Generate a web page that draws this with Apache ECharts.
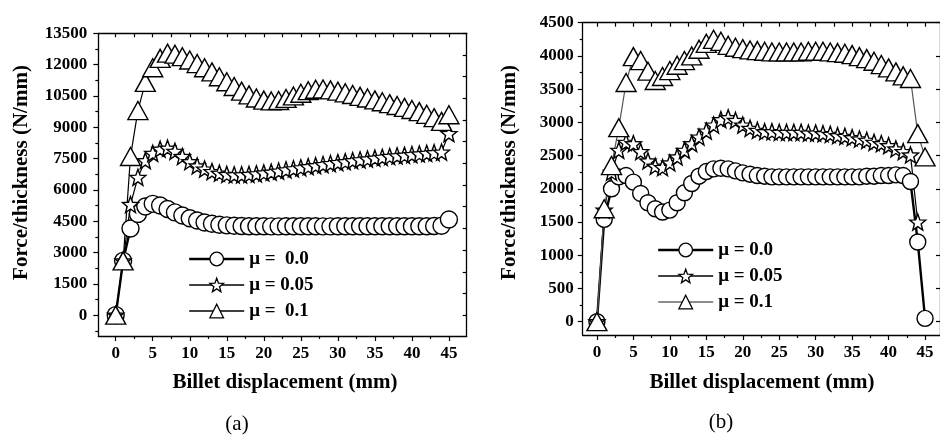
<!DOCTYPE html>
<html>
<head>
<meta charset="utf-8">
<script src="https://cdn.jsdelivr.net/npm/echarts@6/dist/echarts.min.js"></script>
<style>
html, body { margin: 0; padding: 0; background: #fff; }
#chart { width: 940px; height: 435px; }
</style>
</head>
<body>
<div id="chart"></div>
<script>
// billet displacement (mm), one marker per mm
const disp = [0, 1, 2, 3, 4, 5, 6, 7, 8, 9, 10, 11, 12, 13, 14, 15, 16, 17, 18, 19, 20, 21, 22,
  23, 24, 25, 26, 27, 28, 29, 30, 31, 32, 33, 34, 35, 36, 37, 38, 39, 40, 41, 42, 43, 44, 45];

// tick labels
const xLabels = [0, 5, 10, 15, 20, 25, 30, 35, 40, 45];
const aYLabels = [0, 1500, 3000, 4500, 6000, 7500, 9000, 10500, 12000, 13500];
const bYLabels = [0, 500, 1000, 1500, 2000, 2500, 3000, 3500, 4000, 4500];

// legend names
const aNames = ['μ =  0.0', 'μ = 0.05', 'μ =  0.1'];
const bNames = ['μ = 0.0', 'μ = 0.05', 'μ = 0.1'];

// (a) force/thickness, N/mm
const aMu00 = [0, 2600, 4150, 4850, 5200, 5330, 5250, 5080, 4920, 4770, 4640, 4530, 4440, 4380, 4330, 4300,
  4280, 4270, 4260, 4260, 4260, 4250, 4250, 4260, 4260, 4260, 4260, 4260, 4250, 4250, 4260, 4260, 4260,
  4260, 4260, 4260, 4260, 4260, 4260, 4260, 4260, 4260, 4260, 4270, 4280, 4580];
const aMu005 = [0, 2600, 5300, 6600, 7400, 7750, 7950, 8000, 7850, 7600, 7350, 7150, 7000, 6880, 6800, 6740,
  6720, 6720, 6740, 6770, 6810, 6850, 6900, 6960, 7010, 7060, 7110, 7160, 7210, 7260, 7310, 7350, 7400,
  7440, 7480, 7520, 7560, 7600, 7630, 7660, 7690, 7720, 7750, 7780, 7810, 8700];
const aMu01 = [0, 2600, 7600, 9800, 11150, 11850, 12300, 12550, 12500, 12380, 12220, 12050, 11850, 11650,
  11420, 11180, 10950, 10730, 10550, 10400, 10300, 10260, 10280, 10380, 10500, 10630, 10750, 10820, 10830,
  10790, 10730, 10650, 10570, 10480, 10400, 10310, 10220, 10130, 10040, 9950, 9850, 9750, 9620, 9460, 9280, 9600];

// (b) force/thickness, N/mm
const bMu00 = [0, 1540, 2000, 2180, 2200, 2100, 1930, 1790, 1700, 1650, 1680, 1790, 1940, 2080, 2190, 2260,
  2300, 2310, 2300, 2270, 2240, 2220, 2200, 2190, 2180, 2180, 2180, 2180, 2180, 2180, 2180, 2180, 2180,
  2180, 2180, 2180, 2180, 2190, 2190, 2200, 2200, 2210, 2200, 2110, 1200, 50];
const bMu005 = [0, 1680, 2250, 2580, 2700, 2680, 2560, 2420, 2340, 2320, 2390, 2480, 2580, 2680, 2780, 2870,
  2960, 3040, 3070, 3030, 2960, 2910, 2880, 2860, 2860, 2850, 2850, 2850, 2850, 2840, 2840, 2830, 2820,
  2800, 2790, 2770, 2750, 2730, 2700, 2680, 2650, 2600, 2560, 2510, 1500];
const bMu01 = [0, 1700, 2350, 2920, 3600, 3990, 3930, 3770, 3630, 3690, 3780, 3860, 3930, 4000, 4100, 4190,
  4250, 4220, 4160, 4130, 4110, 4090, 4080, 4070, 4060, 4060, 4060, 4060, 4060, 4070, 4070, 4070, 4060,
  4050, 4040, 4020, 3990, 3960, 3920, 3870, 3820, 3760, 3700, 3660, 2830, 2480];

// minor / mirror tick positions
const xMinor = [2.5, 7.5, 12.5, 17.5, 22.5, 27.5, 32.5, 37.5, 42.5];
const xAll = xLabels.concat(xMinor);
const aYMinor = [-750, 750, 2250, 3750, 5250, 6750, 8250, 9750, 11250, 12750];
const bYMinor = [250, 750, 1250, 1750, 2250, 2750, 3250, 3750, 4250];
const aRight = Array.from({ length: 14 }, (_, k) => k * 13500 / 13);

const font = 'Liberation Serif';
const black = '#000';

// 5 point star
const starPts = [];
for (let k = 0; k < 10; k++) {
  const r = k % 2 ? 0.42 : 1;
  const ang = -Math.PI / 2 + k * Math.PI / 5;
  starPts.push((r * Math.cos(ang)).toFixed(3) + ' ' + (r * Math.sin(ang)).toFixed(3));
}
const star = 'path://M' + starPts.join(' L') + ' Z';

const labelStyle = {
  color: black, fontFamily: font, fontWeight: 'bold', fontSize: 17,
  formatter: (v) => String(v),
};
const tickLine = { color: black, width: 1.2 };
const axisLine = { show: true, onZero: false, lineStyle: { color: black, width: 1.3 } };
const noLine = { show: false, onZero: false };

function xAxes(grid, min, max) {
  return [
    {
      type: 'value', gridIndex: grid, min, max, position: 'bottom',
      axisLine, splitLine: { show: false },
      axisTick: { show: true, inside: false, length: 5, customValues: xLabels, lineStyle: tickLine },
      axisLabel: Object.assign({ customValues: xLabels, margin: 9 }, labelStyle),
    },
    {
      type: 'value', gridIndex: grid, min, max, position: 'bottom',
      axisLine: noLine, splitLine: { show: false }, axisLabel: { show: false },
      axisTick: { show: true, inside: false, length: 3, customValues: xMinor, lineStyle: tickLine },
    },
    {
      type: 'value', gridIndex: grid, min, max, position: 'top',
      axisLine, splitLine: { show: false }, axisLabel: { show: false },
      axisTick: { show: true, inside: true, length: 4, customValues: xAll, lineStyle: tickLine },
    },
  ];
}

function yAxes(grid, min, max, labels, minor, right, margin) {
  return [
    {
      type: 'value', gridIndex: grid, min, max, position: 'left',
      axisLine, splitLine: { show: false },
      axisTick: { show: true, inside: false, length: 5, customValues: labels, lineStyle: tickLine },
      axisLabel: Object.assign({ customValues: labels, margin }, labelStyle),
    },
    {
      type: 'value', gridIndex: grid, min, max, position: 'left',
      axisLine: noLine, splitLine: { show: false }, axisLabel: { show: false },
      axisTick: { show: true, inside: false, length: 3, customValues: minor, lineStyle: tickLine },
    },
    {
      type: 'value', gridIndex: grid, min, max, position: 'right',
      axisLine, splitLine: { show: false }, axisLabel: { show: false },
      axisTick: { show: true, inside: true, length: 4, customValues: right, lineStyle: tickLine },
    },
  ];
}

function line(name, ys, grid, symbol, size, width, color) {
  return {
    type: 'line', name,
    xAxisIndex: grid * 3, yAxisIndex: grid * 3,
    data: ys.map((v, i) => [disp[i], v]),
    symbol, symbolSize: size, showAllSymbol: true,
    lineStyle: { color, width },
    itemStyle: { color: '#fff', borderColor: black, borderWidth: 1.4 },
    emphasis: { disabled: true },
  };
}

// legend rows: line width / colour per entry
function legend(names, widths, colors, left, top) {
  return {
    data: names.map((name, i) => ({
      name,
      lineStyle: { width: widths[i], color: colors[i] },
      itemStyle: { color: '#fff', borderColor: black, borderWidth: 1.3 },
    })),
    left, top, orient: 'vertical',
    itemWidth: 55, itemHeight: 17, itemGap: 6,
    selectedMode: false,
    textStyle: { color: black, fontFamily: font, fontWeight: 'bold', fontSize: 19, lineHeight: 20 },
  };
}

function title(text, x, y, rot) {
  return {
    type: 'text', x, y, rotation: rot,
    style: {
      text, fill: black, font: 'bold 21px "Liberation Serif"',
      textAlign: 'center', textVerticalAlign: 'middle', align: 'center', verticalAlign: 'middle',
    },
  };
}

function caption(text, x, y) {
  return {
    type: 'text', x, y,
    style: {
      text, fill: black, font: '21px "Liberation Serif"',
      textAlign: 'center', textVerticalAlign: 'middle', align: 'center', verticalAlign: 'middle',
    },
  };
}

const myChart = echarts.init(document.getElementById('chart'), null, { renderer: 'canvas' });
myChart.setOption({
  animation: false,
  backgroundColor: '#fff',
  grid: [
    { left: 98.3, top: 33.3, width: 368.4, height: 302.7, containLabel: false },
    { left: 582.7, top: 22.7, width: 359, height: 312.3, containLabel: false },
  ],
  xAxis: xAxes(0, -2.35, 47.4).concat(xAxes(1, -1.95, 47.05)),
  yAxis: yAxes(0, -1000, 13500, aYLabels, aYMinor, aRight, 11)
    .concat(yAxes(1, -200, 4500, bYLabels, bYMinor, bYLabels, 9)),
  legend: [
    legend(aNames, [2.4, 1.5, 1.5], [black, black, black], 183, 244),
    legend(bNames, [2.4, 1.5, 1.5], [black, black, '#666'], 652, 235),
  ],
  series: [
    line(aNames[0], aMu00, 0, 'circle', 17, 2.4, black),
    line(aNames[1], aMu005, 0, star, 16, 1.2, black),
    line(aNames[2], aMu01, 0, 'triangle', [20, 18], 1.2, black),
    line(bNames[0], bMu00, 1, 'circle', 16, 2.4, black),
    line(bNames[1], bMu005, 1, star, 16, 1.2, black),
    line(bNames[2], bMu01, 1, 'triangle', [20, 18], 1.2, '#555'),
  ],
  graphic: [
    title('Force/thickness (N/mm)', 22, 172.5, Math.PI / 2),
    title('Billet displacement (mm)', 285, 383, 0),
    title('Force/thickness (N/mm)', 510, 172.5, Math.PI / 2),
    title('Billet displacement (mm)', 762, 383, 0),
    caption('(a)', 237, 424),
    caption('(b)', 721, 422),
  ],
});
</script>
</body>
</html>
